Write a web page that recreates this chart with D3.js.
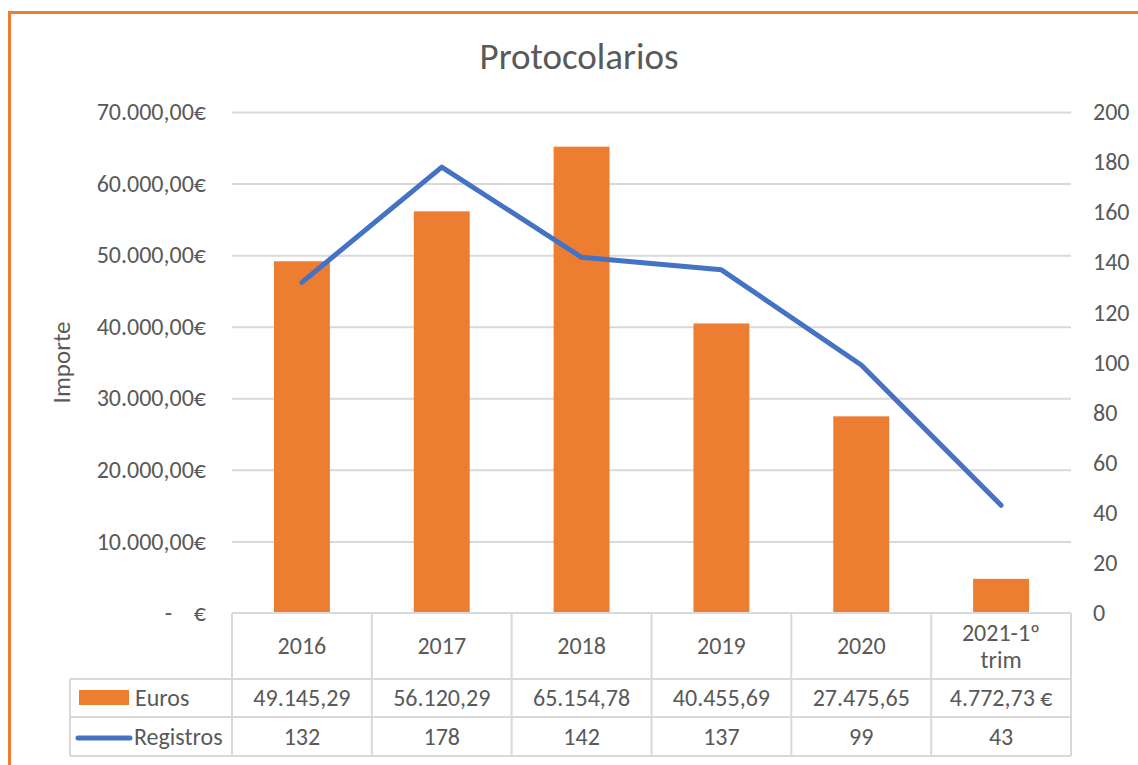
<!DOCTYPE html>
<html>
<head>
<meta charset="utf-8">
<script src="https://cdn.jsdelivr.net/npm/d3@7"></script>
<style>
  body { margin: 0; background: #fff; }
  text { font-family: Carlito, Calibri, "Open Sans", "Noto Sans", sans-serif; fill: #595959; }
</style>
</head>
<body>
<script>
const svgW = 1138;
const svgH = 765;

// datos
const categories = ['2016', '2017', '2018', '2019', '2020', '2021-1º trim'];
const euros = [49145.29, 56120.29, 65154.78, 40455.69, 27475.65, 4772.73];
const registros = [132, 178, 142, 137, 99, 43];
const eurosLabels = ['49.145,29', '56.120,29', '65.154,78', '40.455,69', '27.475,65', '4.772,73 €'];
const leftTicks = [0, 10000, 20000, 30000, 40000, 50000, 60000, 70000];
const rightTicks = [0, 20, 40, 60, 80, 100, 120, 140, 160, 180, 200];

const orange = '#ED7D31';
const blue = '#4472C4';
const grey = '#595959';
const gridC = '#d9d9d9';
const fs = '24px';

const svg = d3.select('body')
  .append('svg')
  .attr('width', svgW)
  .attr('height', svgH);

// marco
svg.append('rect')
  .attr('x', 9.5).attr('y', 12.5)
  .attr('width', svgW + 20).attr('height', svgH + 20)
  .attr('fill', 'none')
  .attr('stroke', orange)
  .attr('stroke-width', 3);

const margin = { top: 112, left: 232, right: 1071, bottom: 613 };

svg.append('text')
  .attr('x', 579).attr('y', 69)
  .attr('text-anchor', 'middle')
  .style('font-size', '37px')
  .text('Protocolarios');

const x = d3.scaleBand()
  .domain(categories)
  .range([margin.left, margin.right])
  .paddingInner(0.6).paddingOuter(0.3);

const xCol = d3.scaleBand()
  .domain(categories)
  .range([margin.left, margin.right]);

const yL = d3.scaleLinear().domain([0, 70000]).range([margin.bottom, margin.top]);
const yR = d3.scaleLinear().domain([0, 200]).range([margin.bottom, margin.top]);

// ejes
const fmtEuro = d => d === 0 ? '-    €' : d3.format(',.2f')(d).replace(/,/g, 'X').replace('.', ',').replace(/X/g, '.') + '€';

const axL = svg.append('g')
  .attr('transform', `translate(${margin.left},0)`)
  .call(d3.axisLeft(yL).tickValues(leftTicks).tickFormat(fmtEuro)
    .tickSize(-(margin.right - margin.left)).tickPadding(26));
axL.select('.domain').remove();
axL.selectAll('.tick line').attr('stroke', gridC).attr('stroke-width', 2)
  .filter(d => d === 0).remove();
axL.selectAll('.tick text').style('font-size', fs).attr('fill', grey)
  .style('white-space', 'pre')
  .style('font-family', 'Carlito, Calibri, "Open Sans", sans-serif');

const axR = svg.append('g')
  .attr('transform', `translate(${margin.right},0)`)
  .call(d3.axisRight(yR).tickValues(rightTicks).tickSize(0).tickPadding(22));
axR.select('.domain').remove();
axR.selectAll('.tick text').style('font-size', fs).attr('fill', grey)
  .style('font-family', 'Carlito, Calibri, "Open Sans", sans-serif');

svg.append('text')
  .attr('transform', `translate(70,${(margin.top + margin.bottom) / 2}) rotate(-90)`)
  .attr('text-anchor', 'middle')
  .style('font-size', '25px')
  .text('Importe');

// barras
svg.selectAll('rect.bar')
  .data(euros)
  .enter()
  .append('rect')
  .attr('class', 'bar')
  .attr('x', (d, i) => x(categories[i]))
  .attr('y', d => yL(d))
  .attr('width', x.bandwidth())
  .attr('height', d => yL(0) - yL(d))
  .attr('fill', orange);

// línea
const line = d3.line()
  .x((d, i) => xCol(categories[i]) + xCol.bandwidth() / 2)
  .y(d => yR(d));

svg.append('path')
  .datum(registros)
  .attr('d', line)
  .attr('fill', 'none')
  .attr('stroke', blue)
  .attr('stroke-width', 5)
  .attr('stroke-linejoin', 'round')
  .attr('stroke-linecap', 'round');

// tabla de datos
const rowHead = [613, 679];
const rowEuro = [679, 717];
const rowReg = [717, 756];
const legendX = 70;
const t = svg.append('g').attr('stroke', '#d9d9d9').attr('stroke-width', 2).attr('fill', 'none');

t.append('line').attr('x1', margin.left).attr('x2', margin.right).attr('y1', rowHead[0]).attr('y2', rowHead[0]);
[rowEuro[0], rowReg[0], rowReg[1]].forEach(yy => {
  t.append('line').attr('x1', legendX).attr('x2', margin.right).attr('y1', yy).attr('y2', yy);
});
t.append('line').attr('x1', legendX).attr('x2', legendX).attr('y1', rowEuro[0]).attr('y2', rowReg[1]);
categories.forEach(c => {
  t.append('line').attr('x1', xCol(c)).attr('x2', xCol(c)).attr('y1', rowHead[0]).attr('y2', rowReg[1]);
});
t.append('line').attr('x1', margin.right).attr('x2', margin.right).attr('y1', rowHead[0]).attr('y2', rowReg[1]);

const cx = c => xCol(c) + xCol.bandwidth() / 2;

categories.forEach((c, i) => {
  const parts = c === '2021-1º trim' ? ['2021-1º', 'trim'] : [c];
  const mid = (rowHead[0] + rowHead[1]) / 2;
  const txt = svg.append('text')
    .attr('text-anchor', 'middle')
    .style('font-size', fs);
  parts.forEach((p, j) => {
    txt.append('tspan')
      .attr('x', cx(c))
      .attr('y', mid + 8 + (j - (parts.length - 1) / 2) * 27)
      .text(p);
  });
  svg.append('text')
    .attr('x', cx(c)).attr('y', (rowEuro[0] + rowEuro[1]) / 2 + 8)
    .attr('text-anchor', 'middle').style('font-size', fs)
    .text(eurosLabels[i]);
  svg.append('text')
    .attr('x', cx(c)).attr('y', (rowReg[0] + rowReg[1]) / 2 + 8)
    .attr('text-anchor', 'middle').style('font-size', fs)
    .text(registros[i]);
});

// leyenda
svg.append('rect').attr('x', 79).attr('y', 690).attr('width', 50).attr('height', 15).attr('fill', orange);
svg.append('text').attr('x', 135).attr('y', 706).style('font-size', fs).text('Euros');
svg.append('line').attr('x1', 78).attr('x2', 130).attr('y1', 738).attr('y2', 738)
  .attr('stroke', blue).attr('stroke-width', 5).attr('stroke-linecap', 'round');
svg.append('text').attr('x', 134).attr('y', 745).style('font-size', fs).text('Registros');
</script>
</body>
</html>
